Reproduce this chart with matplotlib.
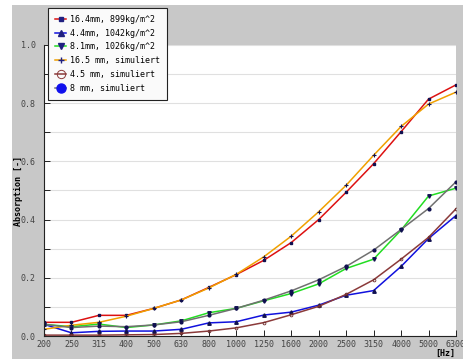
import matplotlib.pyplot as plt
from matplotlib.patches import Rectangle
from matplotlib.lines import Line2D
from matplotlib.ticker import MultipleLocator

plt.rcParams['font.family'] = ['DejaVu Sans Mono']

# Terzband-Frequenzen
freqs = ["200", "250", "315", "400", "500", "630", "800", "1000", "1250",
         "1600", "2000", "2500", "3150", "4000", "5000", "6300"]

# Messungen
mess_16_4 = [0.047, 0.047, 0.071, 0.071, 0.095, 0.124, 0.167, 0.211, 0.260,
             0.321, 0.400, 0.494, 0.592, 0.702, 0.814, 0.863]
mess_4_4 = [0.040, 0.011, 0.016, 0.017, 0.017, 0.023, 0.045, 0.049, 0.072,
            0.082, 0.106, 0.140, 0.156, 0.239, 0.335, 0.414]
mess_8_1 = [0.040, 0.032, 0.041, 0.029, 0.038, 0.052, 0.080, 0.095, 0.121,
            0.146, 0.179, 0.232, 0.264, 0.364, 0.481, 0.508]
# Simulationen
sim_16_5 = [0.023, 0.037, 0.047, 0.068, 0.095, 0.124, 0.165, 0.212, 0.272,
            0.343, 0.427, 0.518, 0.621, 0.720, 0.797, 0.838]
sim_4_5 = [0.003, 0.003, 0.003, 0.004, 0.005, 0.009, 0.017, 0.028, 0.046,
           0.073, 0.102, 0.143, 0.193, 0.264, 0.339, 0.437]
sim_8 = [0.040, 0.029, 0.034, 0.032, 0.038, 0.049, 0.071, 0.095, 0.123,
         0.155, 0.193, 0.239, 0.295, 0.366, 0.438, 0.530]

labels = ["16.4mm, 899kg/m^2", "4.4mm, 1042kg/m^2", "8.1mm, 1026kg/m^2",
          "16.5 mm, simuliert", "4.5 mm, simuliert", "8 mm, simuliert"]

fig = plt.figure(figsize=(4.63, 3.59), dpi=100, facecolor='white')
# grauer Hintergrund
bg = Rectangle((12 / 463, 0), 1, 1 - 5 / 359, transform=fig.transFigure,
               facecolor='#c8c8c8', edgecolor='none', zorder=-10)
fig.patches.append(bg)

ax = fig.add_axes([44 / 463, 23 / 359, 412 / 463, 291 / 359])
ax.set_facecolor('white')

x = list(range(len(freqs)))
mk = '#101050'
ax.plot(x, mess_16_4, color='#dd1111', lw=1.1, marker='s', ms=2, mfc=mk, mec=mk)
ax.plot(x, mess_4_4, color='#1111dd', lw=1.1, marker='^', ms=2.5, mfc=mk, mec=mk)
ax.plot(x, mess_8_1, color='#22dd22', lw=1.1, marker='v', ms=2.5, mfc=mk, mec=mk)
ax.plot(x, sim_16_5, color='#f0a000', lw=1.1, marker='+', ms=2.5, mfc=mk, mec=mk, mew=0.8)
ax.plot(x, sim_4_5, color='#8b3a3a', lw=1.1, marker='o', ms=2, mfc='none', mec='#6b2a2a', mew=0.6)
ax.plot(x, sim_8, color='#707070', lw=1.1, marker='o', ms=2, mfc=mk, mec=mk)

ax.set_xlim(0, len(freqs) - 1)
ax.set_ylim(0, 1.0)
ax.set_xticks(x)
ax.set_xticklabels(freqs)
ax.yaxis.set_major_locator(MultipleLocator(0.2))
ax.yaxis.set_minor_locator(MultipleLocator(0.1))
ax.set_yticklabels([f"{v:.1f}" for v in ax.get_yticks()])
ax.grid(True, axis='y', which='both', color='#e0e0e0', lw=0.8)
ax.set_axisbelow(True)

for s in ['top', 'right']:
    ax.spines[s].set_visible(False)
for s in ['left', 'bottom']:
    ax.spines[s].set_color('#222222')
    ax.spines[s].set_linewidth(0.8)
ax.tick_params(axis='both', which='both', direction='in', length=4, width=0.7,
               color='#222222', labelsize=6, labelcolor='#444444')
ax.tick_params(axis='y', pad=6)
ax.tick_params(axis='x', pad=3)

ax.set_ylabel("Absorption [-]", fontsize=6, fontweight='bold', labelpad=-2)
fig.text(445 / 463, 1 - 353 / 359, "[Hz]", fontsize=6, fontweight='bold',
         ha='center', va='center')

# Legende
handles = [
    Line2D([], [], color='#dd1111', lw=1.1, marker='s', ms=3, mfc='#202080', mec='#202080'),
    Line2D([], [], color='#1111dd', lw=1.1, marker='^', ms=4, mfc='#202080', mec='#202080'),
    Line2D([], [], color='#22dd22', lw=1.1, marker='v', ms=4, mfc='#202080', mec='#202080'),
    Line2D([], [], color='#f0a000', lw=1.1, marker='+', ms=4, mfc='#202080', mec='#202080'),
    Line2D([], [], color='#8b3a3a', lw=1.1, marker='o', ms=6, mfc='none', mec='#8b3a3a', mew=0.7),
    Line2D([], [], color='#707070', lw=1.1, marker='o', ms=6.5, mfc='#1010ee', mec='#1010ee'),
]
leg = fig.legend(handles, labels, loc='upper left', bbox_to_anchor=(48 / 463, 1 - 8 / 359),
                 fontsize=6, frameon=True, fancybox=False, framealpha=1,
                 edgecolor='#222222', facecolor='#fafafa', handlelength=1.4,
                 handletextpad=0.5, labelspacing=0.58, borderpad=0.8, borderaxespad=0)
leg.get_frame().set_linewidth(0.8)

fig.savefig("out.png", dpi=100, facecolor='white')
